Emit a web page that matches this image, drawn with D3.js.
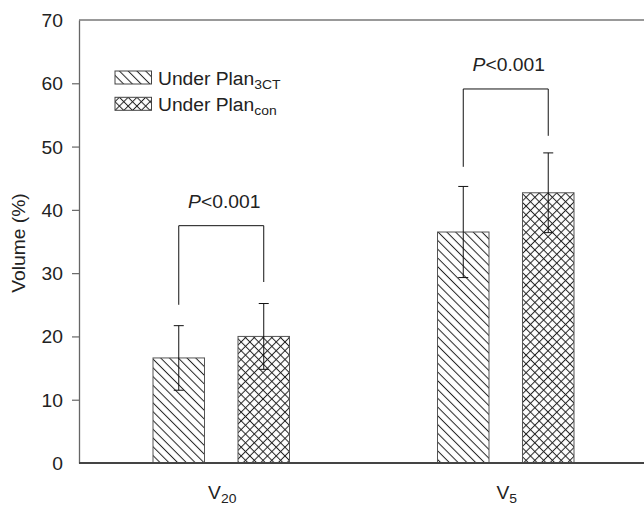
<!DOCTYPE html>
<html>
<head>
<meta charset="utf-8">
<script src="https://cdn.jsdelivr.net/npm/d3@7"></script>
<style>
  body { margin: 0; background: #fff; }
  svg { display: block; font-family: "Liberation Sans", Arial, sans-serif; }
</style>
</head>
<body>
<svg id="chart" width="644" height="508"></svg>
<script>
// data
var groups = ["V20", "V5"];
var groupBase = ["V", "V"];
var groupSub = ["20", "5"];
var series = ["3CT", "con"];
var mean3CT = [16.6, 36.5];
var sd3CT = [5.1, 7.2];
var meanCon = [20.0, 42.7];
var sdCon = [5.2, 6.3];
// significance brackets: top, left leg end, right leg end
var brTop = [37.5, 59.1];
var brLeft = [25.0, 46.8];
var brRight = [28.6, 51.7];
var pLabel = ["P", "<0.001"];
var yTicks = [0, 10, 20, 30, 40, 50, 60, 70];

var svg = d3.select("#chart");
var plotLeft = 79, plotTop = 20, plotBottom = 463;
var sx = 1.07; // text looks a bit wide in the reference
var fs = 18;

var y = d3.scaleLinear().domain([0, 70]).range([plotBottom, plotTop]);
var x = d3.scalePoint().domain(groups).range([79, 648]).padding(0.5);
var xs = d3.scaleBand().domain(series).range([-68.25, 68.25]).paddingInner(0.394).paddingOuter(0);

// hatch patterns
var defs = svg.append("defs");
var ps = 6.2;
var p1 = defs.append("pattern").attr("id", "diag")
  .attr("patternUnits", "userSpaceOnUse").attr("width", ps).attr("height", ps)
  .attr("patternTransform", "rotate(45)");
p1.append("rect").attr("width", ps).attr("height", ps).attr("fill", "#fff");
p1.append("line").attr("x1", 0).attr("x2", ps).attr("y1", ps / 2).attr("y2", ps / 2)
  .attr("stroke", "#222").attr("stroke-width", 1);

var p2 = defs.append("pattern").attr("id", "cross")
  .attr("patternUnits", "userSpaceOnUse").attr("width", ps).attr("height", ps)
  .attr("patternTransform", "rotate(45)");
p2.append("rect").attr("width", ps).attr("height", ps).attr("fill", "#fff");
p2.append("line").attr("x1", 0).attr("x2", ps).attr("y1", ps / 2).attr("y2", ps / 2)
  .attr("stroke", "#222").attr("stroke-width", 1);
p2.append("line").attr("x1", ps / 2).attr("x2", ps / 2).attr("y1", 0).attr("y2", ps)
  .attr("stroke", "#222").attr("stroke-width", 1);

var fills = { "3CT": "url(#diag)", "con": "url(#cross)" };

// frame top line
svg.append("line").attr("x1", plotLeft).attr("x2", 644).attr("y1", plotTop).attr("y2", plotTop)
  .attr("stroke", "#777").attr("stroke-width", 1.3);

// bars
var rows = [];
groups.forEach(function(g, i) {
  rows.push({ g: g, s: "3CT", m: mean3CT[i], sd: sd3CT[i] });
  rows.push({ g: g, s: "con", m: meanCon[i], sd: sdCon[i] });
});

function cx(d) { return x(d.g) + xs(d.s) + xs.bandwidth() / 2; }

svg.selectAll("rect.bar").data(rows).enter().append("rect")
  .attr("class", "bar")
  .attr("x", function(d) { return x(d.g) + xs(d.s); })
  .attr("y", function(d) { return y(d.m); })
  .attr("width", xs.bandwidth())
  .attr("height", function(d) { return y(0) - y(d.m); })
  .attr("fill", function(d) { return fills[d.s]; })
  .attr("stroke", "#555").attr("stroke-width", 1);

// error bars
var eb = svg.selectAll("g.err").data(rows).enter().append("g").attr("class", "err")
  .attr("stroke", "#111").attr("stroke-width", 1);
eb.append("line")
  .attr("x1", cx).attr("x2", cx)
  .attr("y1", function(d) { return y(d.m - d.sd); })
  .attr("y2", function(d) { return y(d.m + d.sd); });
[1, -1].forEach(function(k) {
  eb.append("line")
    .attr("x1", function(d) { return cx(d) - 5; })
    .attr("x2", function(d) { return cx(d) + 5; })
    .attr("y1", function(d) { return y(d.m + k * d.sd); })
    .attr("y2", function(d) { return y(d.m + k * d.sd); });
});

// brackets
groups.forEach(function(g, i) {
  var xl = x(g) + xs("3CT") + xs.bandwidth() / 2;
  var xr = x(g) + xs("con") + xs.bandwidth() / 2;
  svg.append("path")
    .attr("d", d3.line()([[xl, y(brLeft[i])], [xl, y(brTop[i])], [xr, y(brTop[i])], [xr, y(brRight[i])]]))
    .attr("fill", "none").attr("stroke", "#111").attr("stroke-width", 1);
  var t = svg.append("g").attr("transform", "translate(" + (x(g) + 3) + "," + (y(brTop[i]) - 17.5) + ") scale(" + sx + ",1)")
    .append("text").attr("text-anchor", "middle").attr("font-size", fs).attr("fill", "#222");
  t.append("tspan").attr("font-style", "italic").text(pLabel[0]);
  t.append("tspan").text(pLabel[1]);
});

// y axis
var yAxis = svg.append("g").attr("transform", "translate(" + plotLeft + ",0)")
  .call(d3.axisLeft(y).tickValues(yTicks).tickSize(7).tickSizeOuter(0).tickPadding(9).tickFormat(d3.format("d")));
yAxis.select(".domain").attr("stroke", "#666").attr("stroke-width", 1.3);
yAxis.selectAll(".tick line").attr("stroke", "#666").attr("stroke-width", 1.2);
yAxis.selectAll(".tick").filter(function(d) { return d === 0 || d === 70; }).select("line").remove();
yAxis.selectAll(".tick text")
  .attr("font-size", fs).attr("fill", "#222")
  .attr("font-family", "Liberation Sans, Arial, sans-serif")
  .attr("dy", "0.36em")
  .attr("transform", "translate(-16,0) scale(" + sx + ",1) translate(16,0)");

// x axis
svg.append("line").attr("x1", plotLeft).attr("x2", 644).attr("y1", y(0)).attr("y2", y(0))
  .attr("stroke", "#444").attr("stroke-width", 2);

groups.forEach(function(g, i) {
  var t = svg.append("g").attr("transform", "translate(" + (x(g) + 1) + ",499) scale(" + sx + ",1)")
    .append("text").attr("text-anchor", "middle").attr("font-size", fs).attr("fill", "#222");
  t.append("tspan").text(groupBase[i]);
  t.append("tspan").attr("font-size", 13).attr("dy", 4).text(groupSub[i]);
});

// y label
svg.append("g").attr("transform", "translate(25,243) rotate(-90) scale(" + sx + ",1)")
  .append("text").attr("text-anchor", "middle").attr("font-size", fs).attr("fill", "#222")
  .text("Volume (%)");

// legend
var legSub = ["3CT", "con"];
var lg = svg.selectAll("g.leg").data(series).enter().append("g").attr("class", "leg")
  .attr("transform", function(d, i) { return "translate(115," + (71 + i * 26.3) + ")"; });
lg.append("rect").attr("width", 36.5).attr("height", 13)
  .attr("fill", function(d) { return fills[d]; })
  .attr("stroke", "#444").attr("stroke-width", 1);
var lt = lg.append("g").attr("transform", "translate(43,14) scale(" + sx + ",1)")
  .append("text").attr("font-size", fs).attr("fill", "#222");
lt.append("tspan").text("Under Plan");
lt.append("tspan").attr("font-size", 13).attr("dy", 4).text(function(d, i) { return legSub[i]; });
</script>
</body>
</html>
